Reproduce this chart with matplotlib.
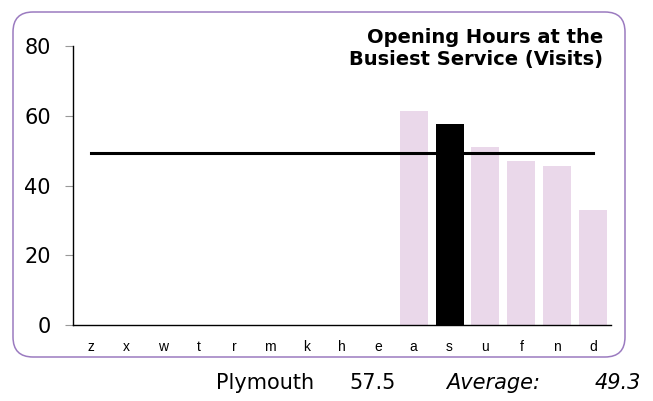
import matplotlib
matplotlib.use("Agg")
from matplotlib import pyplot as plt
from matplotlib import patches, transforms

categories = ['z', 'x', 'w', 't', 'r', 'm', 'k', 'h', 'e', 'a', 's', 'u', 'f', 'n', 'd']
values = [0, 0, 0, 0, 0, 0, 0, 0, 0, 61.5, 57.5, 51, 47, 45.5, 33]
highlight = 's'
average = 49.3
place = 'Plymouth'
place_value = 57.5

W, H = 653, 401
fig = plt.figure(figsize=(W / 100, H / 100), dpi=100)
plt.rcParams['font.family'] = 'DejaVu Sans'

# rounded frame, in pixels
frame = patches.FancyBboxPatch((13, H - 357), 612, 345,
                               boxstyle="round,pad=0,rounding_size=20",
                               fc='white', ec='#9b7bc0', lw=1.1, zorder=-5,
                               transform=transforms.IdentityTransform())
fig.add_artist(frame)

ax = fig.add_axes([73 / W, 1 - 325 / H, (611 - 73) / W, (325 - 46) / H])
ax.patch.set_alpha(0)

xs = list(range(len(categories)))
colors = ['black' if c == highlight else '#ead8ea' for c in categories]
ax.bar(xs, values, width=0.78, color=colors, zorder=2)
ax.plot([xs[0], xs[-1]], [average, average], color='black', lw=2.2, zorder=3)

ax.set_xlim(-0.5, len(categories) - 0.5)
ax.set_ylim(0, 80)
ax.set_yticks([0, 20, 40, 60, 80])
ax.set_xticks(xs)
ax.set_xticklabels(categories, fontsize=10, family='Liberation Sans')
ax.tick_params(axis='x', length=0, pad=11)
ax.tick_params(axis='y', length=6, color='#999999', labelsize=15, pad=10)
for s in ['top', 'right']:
    ax.spines[s].set_visible(False)
ax.spines['left'].set_linewidth(1)
ax.spines['bottom'].set_linewidth(1)

fig.text(603 / W, 1 - 28 / H, 'Opening Hours at the\nBusiest Service (Visits)',
         ha='right', va='top', fontsize=14, fontweight='bold',
         linespacing=1.2)

ty = 1 - 383 / H
fig.text(216 / W, ty, place, fontsize=15, va='center')
fig.text(349 / W, ty, f'{place_value}', fontsize=15, va='center')
fig.text(446 / W, ty, 'Average:', fontsize=15, va='center', style='italic')
fig.text(641 / W, ty, f'{average}', fontsize=15, va='center', ha='right', style='italic')

fig.savefig('out.png', dpi=100)
